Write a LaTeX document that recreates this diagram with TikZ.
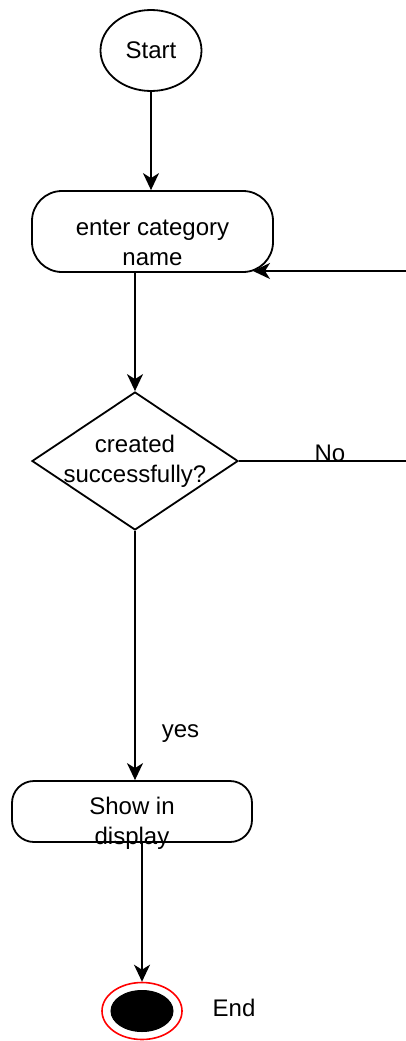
\documentclass[tikz,border=0pt]{standalone}
\usepackage{fontspec}
\setmainfont{Liberation Sans}
\usetikzlibrary{shapes.geometric,arrows.meta}
\begin{document}
\begin{tikzpicture}[x=1pt,y=-1pt,
  every node/.style={font=\fontsize{24}{30}\selectfont},
  line/.style={line width=1.8pt,draw=black},
  arr/.style={line,-{Stealth[length=17pt,width=16pt,inset=5pt]}},
  roundbox/.style={line,rectangle,rounded corners=30pt,inner sep=0pt},
  txt/.style={align=center,inner sep=0pt}]
\clip (0,0) rectangle (406,1041);
\fill[white] (0,0) rectangle (406,1041);

\node[line,ellipse,minimum width=101pt,minimum height=81pt,inner sep=0pt] (start) at (151,50.5) {Start};

\node[roundbox,minimum width=241pt,minimum height=81pt,
  label={[txt,yshift=-11pt]center:enter category\\name}] (enter) at (152.5,231.5) {};

\node[line,diamond,minimum width=206pt,minimum height=138pt,inner sep=0pt,
  label={[txt]center:created\\successfully?}] (dec) at (135,461) {};

\node[roundbox,minimum width=240pt,minimum height=61pt,rounded corners=22pt,
  label={[txt,yshift=-11.5pt]center:Show in\\display}] (show) at (132,811.5) {};

\node[draw=red,line width=1.6pt,ellipse,minimum width=80pt,minimum height=57pt,inner sep=0pt] (end) at (142,1011) {};
\node[draw=black,fill=black,line width=1pt,ellipse,minimum width=62pt,minimum height=41pt,inner sep=0pt] (endin) at (end.center) {};
\node[txt] (endlbl) at (234,1008) {End};

\coordinate (noA) at (412,461);
\coordinate (noB) at (412,271);
\coordinate (back) at (253,271);

\draw[arr] (start.south) -- (start.south |- enter.north);
\draw[arr] (dec.north |- enter.south) -- (dec.north);
\draw[arr] (dec.south) -- (dec.south |- show.north)
  node[txt,pos=0.79,right=26pt,yshift=-6pt] (yes) {yes};
\draw[arr] (end.north |- show.south) -- (end.north);
\draw[arr] (dec.east) -- (noA) -- (noB) -- (back);
\node[txt,anchor=base] (nolbl) at (330,461) {No};
\end{tikzpicture}
\end{document}
